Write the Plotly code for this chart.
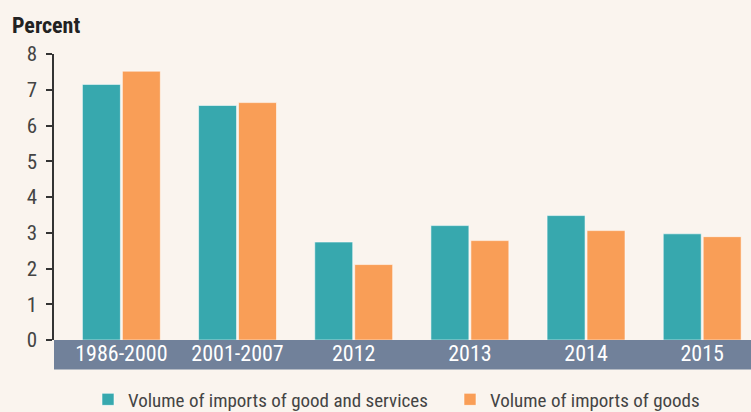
import plotly.graph_objects as go

categories = ["1986-2000", "2001-2007", "2012", "2013", "2014", "2015"]
goods_services = [7.15, 6.56, 2.74, 3.20, 3.48, 2.97]
goods = [7.52, 6.64, 2.11, 2.78, 3.06, 2.89]
series_names = ["Volume of imports of good and services", "Volume of imports of goods"]
y_ticks = [0, 1, 2, 3, 4, 5, 6, 7, 8]

FONT = "Roboto Condensed, DejaVu Sans Condensed, sans-serif"
BG = "#faf4ee"
TEAL = "#37a8ae"
ORANGE = "#f99e57"
BAND = "#71819a"

fig = go.Figure()
fig.add_trace(go.Bar(x=categories, y=goods_services, name=series_names[0], legend="legend",
                     marker=dict(color=TEAL, line=dict(color="rgba(255,255,255,0.55)", width=1))))
fig.add_trace(go.Bar(x=categories, y=goods, name=series_names[1], legend="legend2",
                     marker=dict(color=ORANGE, line=dict(color="rgba(255,255,255,0.55)", width=1))))

fig.add_shape(type="rect", xref="paper", yref="paper", x0=0, x1=1, y0=0, y1=-29.5/286,
              fillcolor=BAND, line=dict(width=0), layer="below")

legend_common = dict(orientation="h", y=(339.5-399)/286, yanchor="middle", xanchor="left",
                     font=dict(size=19, color="#444", family=FONT), bgcolor="rgba(0,0,0,0)")

fig.update_layout(
    width=751, height=412,
    margin=dict(l=54, r=0, t=54, b=72, autoexpand=False),
    paper_bgcolor=BG, plot_bgcolor="rgba(0,0,0,0)",
    barmode="group", bargap=0.312, bargroupgap=0.05,
    font=dict(family=FONT, color="#3a3a3a"),
    title=dict(text="<b>Percent</b>", x=12/751, xanchor="left", xref="container",
               y=1-25/412, yanchor="middle", font=dict(size=22, color="#222", family=FONT)),
    showlegend=True,
    legend=dict(x=(88-54)/697, **legend_common),
    legend2=dict(x=(450-54)/697, **legend_common),
    xaxis=dict(range=[-0.58, 5.42], showline=False, ticks="", showgrid=False, automargin=False,
               tickfont=dict(size=22, color="white", family=FONT), ticklabelstandoff=-2),
    yaxis=dict(range=[0, 8], tickvals=y_ticks, showgrid=False, zeroline=False, automargin=False,
               showline=True, linecolor="#333", linewidth=1.5,
               ticks="outside", ticklen=6, tickwidth=1.5, tickcolor="#333",
               tickfont=dict(size=21, color="#444", family=FONT), ticklabelstandoff=5),
)

fig.write_html("out.html", config={"displayModeBar": False},
               post_script="document.body.style.margin='0';document.body.style.background='%s';" % BG)
